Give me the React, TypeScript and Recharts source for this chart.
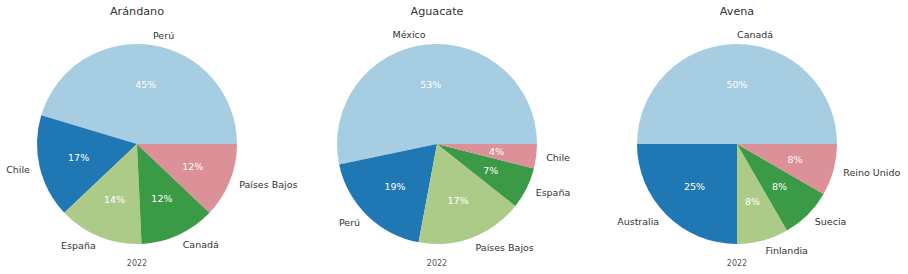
import React from "react";
import { PieChart, Pie, Cell } from "recharts";

const COLORS = ["#a6cde2", "#1f77b4", "#adcb88", "#3a9a46", "#dc9097"];

const titles = ["Arándano", "Aguacate", "Avena"];
const yearLabel = "2022";

const arandanoNames = ["Perú", "Chile", "España", "Canadá", "Países Bajos"];
const arandanoValues = [45.4, 16.7, 13.7, 12.2, 12.1];

const aguacateNames = ["México", "Perú", "Países Bajos", "España", "Chile"];
const aguacateValues = [53.3, 18.75, 17.3, 6.7, 3.95];

const avenaNames = ["Canadá", "Australia", "Finlandia", "Suecia", "Reino Unido"];
const avenaValues = [6, 3, 1, 1, 1];

const build = (names: string[], values: number[]) =>
  names.map((n, i) => ({ name: n, value: values[i] }));

const datasets = [
  build(arandanoNames, arandanoValues),
  build(aguacateNames, aguacateValues),
  build(avenaNames, avenaValues),
];

const CENTERS = [137, 437, 737];
const CY = 144;
const R = 100;
const RAD = Math.PI / 180;
const FONT = "DejaVu Sans, sans-serif";

const renderLabel = (props: any) => {
  const { cx, cy, midAngle, outerRadius, percent, name } = props;
  const c = Math.cos(midAngle * RAD);
  const s = Math.sin(midAngle * RAD);
  const lx = cx + outerRadius * 1.1 * c;
  const ly = cy - outerRadius * 1.1 * s;
  const px = cx + outerRadius * 0.6 * c;
  const py = cy - outerRadius * 0.6 * s;
  return (
    <g>
      <text
        x={lx}
        y={ly}
        textAnchor={c > 0 ? "start" : "end"}
        dominantBaseline="central"
        fontSize={9.5}
        fontFamily={FONT}
        fill="#333333"
      >
        {name}
      </text>
      <text
        x={px}
        y={py}
        textAnchor="middle"
        dominantBaseline="central"
        fontSize={9.5}
        fontFamily={FONT}
        fill="#ffffff"
      >
        {`${Math.round(percent * 100)}%`}
      </text>
    </g>
  );
};

export default function App() {
  return (
    <div style={{ position: "absolute", left: 0, top: 0, width: 908, height: 274, background: "#fff" }}>
      <PieChart width={908} height={274} margin={{ top: 0, right: 0, bottom: 0, left: 0 }}>
        {datasets.map((d, k) => (
          <Pie
            key={k}
            data={d}
            dataKey="value"
            nameKey="name"
            cx={CENTERS[k]}
            cy={CY}
            outerRadius={R}
            innerRadius={0}
            startAngle={0}
            endAngle={360}
            stroke="none"
            label={renderLabel}
            labelLine={false}
            isAnimationActive={false}
          >
            {d.map((_, i) => (
              <Cell key={i} fill={COLORS[i]} />
            ))}
          </Pie>
        ))}
        {titles.map((t, k) => (
          <text
            key={`t${k}`}
            x={CENTERS[k]}
            y={11}
            textAnchor="middle"
            dominantBaseline="central"
            fontSize={11.2}
            fontFamily={FONT}
            fill="#333333"
          >
            {t}
          </text>
        ))}
        {titles.map((_, k) => (
          <text
            key={`y${k}`}
            x={CENTERS[k]}
            y={263}
            textAnchor="middle"
            dominantBaseline="central"
            fontSize={8}
            fontFamily={FONT}
            fill="#555555"
          >
            {yearLabel}
          </text>
        ))}
      </PieChart>
    </div>
  );
}
